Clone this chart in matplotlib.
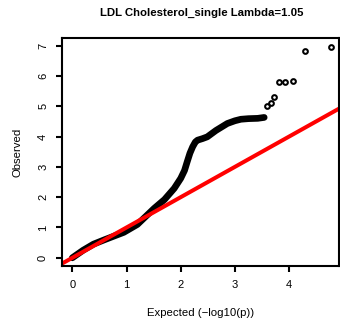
import matplotlib
matplotlib.use("Agg")
import matplotlib.pyplot as plt
import numpy as np

# dense part of the QQ cloud (expected, observed)
band_expected = [0.0, 0.2, 0.39, 0.6, 0.95, 1.2, 1.51, 1.7, 1.88, 2.0, 2.07, 2.12, 2.17, 2.22, 2.27, 2.31, 2.4, 2.49, 2.65, 2.86, 3.0, 3.11, 3.25, 3.42, 3.54]
band_observed = [0.0, 0.25, 0.45, 0.6, 0.84, 1.1, 1.63, 1.92, 2.29, 2.62, 2.88, 3.17, 3.45, 3.66, 3.82, 3.88, 3.93, 3.99, 4.2, 4.43, 4.52, 4.57, 4.59, 4.6, 4.63]

# the top hits, drawn as single circles
top_expected = [3.60, 3.66, 3.73, 3.82, 3.93, 4.07, 4.29, 4.77]
top_observed = [5.00, 5.12, 5.30, 5.80, 5.80, 5.84, 6.83, 6.96]

x_ticks = [0, 1, 2, 3, 4]
y_ticks = [0, 1, 2, 3, 4, 5, 6, 7]

plt.rcParams["font.family"] = ["Liberation Sans", "DejaVu Sans"]

fig = plt.figure(figsize=(3.4, 3.26), dpi=100)
ax = fig.add_axes([62 / 340, 1 - 266 / 326, 277 / 340, 228 / 326])

ax.plot(band_expected, band_observed, color="black", lw=4.8,
        solid_capstyle="round", solid_joinstyle="round")
ax.plot(top_expected, top_observed, "o", mfc="none", mec="black",
        ms=3.4, mew=1.45)

lims = np.array([-1, 6])
ax.plot(lims, lims, color="#ff0000", lw=2.9)

ax.set_xlim(-0.19, 4.92)
ax.set_ylim(-0.27, 7.25)
ax.set_xticks(x_ticks)
ax.set_yticks(y_ticks)
ax.tick_params(direction="out", length=4, width=1.5, labelsize=8, pad=6)
for lab in ax.get_yticklabels():
    lab.set_rotation(90)
    lab.set_va("center")
for s in ax.spines.values():
    s.set_linewidth(1.5)

ax.set_xlabel("Expected (\u2212log10(p))", fontsize=8.2, labelpad=13)
ax.set_ylabel("Observed", fontsize=8.2, labelpad=11)
fig.text(0.592, 1 - 13 / 326, "LDL Cholesterol_single Lambda=1.05",
         ha="center", va="center", fontsize=8.2, fontweight="bold")

fig.savefig("out.png", dpi=100)
